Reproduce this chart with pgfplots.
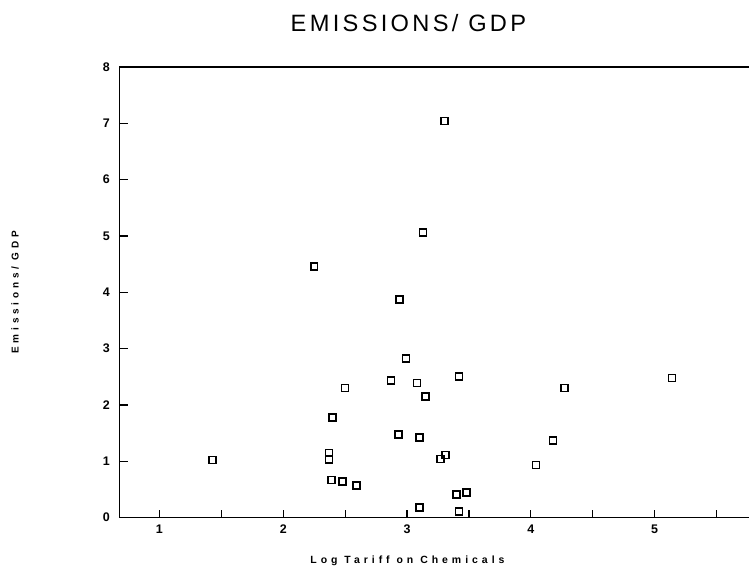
\documentclass[border=0pt]{standalone}
\usepackage{fontspec}
\setmainfont{Liberation Sans}
\newfontfamily\titlefont[LetterSpace=14]{Liberation Sans}
\newfontfamily\labfont[LetterSpace=38]{Liberation Sans}
\usepackage{pgfplots}
\pgfplotsset{compat=1.18}
\usepackage{pgfplotstable}

% log tariff vs emissions/GDP
\pgfplotstableread{
x y
1.43 1.02
2.25 4.46
2.37 1.15
2.37 1.03
2.39 0.67
2.40 1.78
2.48 0.64
2.50 2.30
2.59 0.57
2.87 2.43
2.93 1.47
2.94 3.87
2.99 2.82
3.08 2.39
3.10 1.42
3.10 0.18
3.13 5.06
3.15 2.15
3.27 1.04
3.30 7.04
3.31 1.11
3.40 0.41
3.42 2.51
3.42 0.11
3.48 0.44
4.04 0.93
4.18 1.37
4.27 2.30
5.14 2.48
}\emis

\begin{document}
\begin{tikzpicture}
\begin{axis}[
    scale only axis,
    width=629.7bp, height=450bp,
    xmin=0.677, xmax=5.768,
    ymin=0, ymax=8,
    enlargelimits=false,
    axis line style={line width=1.4pt},
    xtick pos=bottom, ytick pos=left,
    xtick={1,2,3,4,5},
    ytick={0,1,...,8},
    minor xtick={1.5,2.5,3.5,4.5,5.5},
    tick align=inside,
    tickwidth=0pt,
    subtickwidth=8bp,
    tick style={black, line width=1.2pt},
    ticklabel style={font=\fontsize{12.5}{14}\selectfont\bfseries},
    yticklabel style={xshift=-6bp},
    xticklabel style={yshift=-4bp},
    /pgf/number format/assume math mode=true,
]
\addplot[only marks, mark=square, mark size=3.5pt,
    mark options={line width=1.6pt, black}] table {\emis};
% inward major tick marks (8bp up, 9bp right)
\pgfplotsinvokeforeach{1,2,3,4,5}{
  \draw[line width=1.2pt] (axis cs:#1,0) -- (axis cs:#1,0.142);
}
\pgfplotsinvokeforeach{1,2,3,4,5,6,7}{
  \draw[line width=1.2pt] (axis cs:0.677,#1) -- (axis cs:0.75,#1);
}
\end{axis}
\node[font=\titlefont\fontsize{23.7}{26}\selectfont] at (288.7bp,494bp) {EMISSIONS/ GDP};
\node[font=\labfont\fontsize{10.5}{12}\selectfont\bfseries] at (287.7bp,-43bp) {Log Tariff on Chemicals};
\node[font=\labfont\fontsize{10}{12}\selectfont\bfseries, rotate=90] at (-104.3bp,225bp) {Emissions/ GDP};
\pgfresetboundingbox
\useasboundingbox (-119.3bp,-55bp) rectangle (628.9bp,517bp);
\end{tikzpicture}
\end{document}
